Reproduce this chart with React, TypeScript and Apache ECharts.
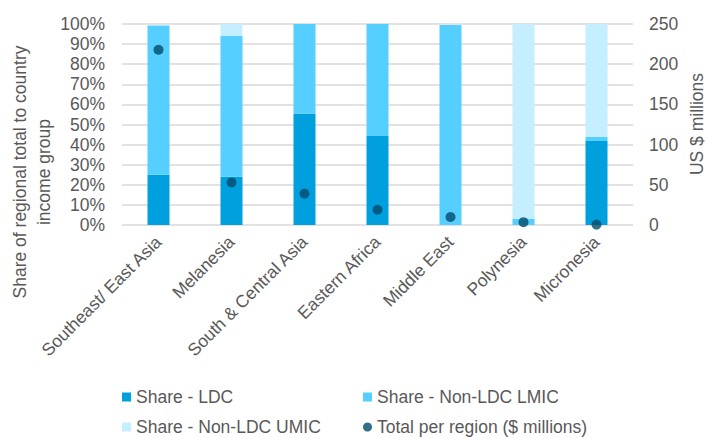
import React, { useEffect, useRef } from "react";
import * as echarts from "echarts";

const categories = [
  "Southeast/ East Asia",
  "Melanesia",
  "South & Central Asia",
  "Eastern Africa",
  "Middle East",
  "Polynesia",
  "Micronesia",
];
const shareLDC = [25, 24, 55.5, 44.3, 0, 0, 41.8];
const shareLMIC = [74.2, 70, 44.5, 55.7, 99.5, 3, 2];
const shareUMIC = [0, 6, 0, 0, 0, 97, 56.2];
const totalPerRegion = [218, 53, 39, 19, 10, 3.5, 0.5];
const leftTicks = [0, 10, 20, 30, 40, 50, 60, 70, 80, 90, 100];
const rightTicks = [0, 50, 100, 150, 200, 250];

const FONT = "Liberation Sans, Arial, sans-serif";
const GRAY = "#595959";
const FS = 17.5;

export default function App() {
  const ref = useRef<HTMLDivElement>(null);
  useEffect(() => {
    if (!ref.current) return;
    const chart = echarts.init(ref.current, null, { renderer: "svg" });
    const legendText = { color: GRAY, fontSize: FS, fontFamily: FONT };
    chart.setOption({
      animation: false,
      textStyle: { fontFamily: FONT },
      grid: { left: 122, right: 74, top: 24, bottom: 213, containLabel: false },
      legend: [
        { data: [{ name: "Share - LDC", icon: "rect" }], left: 122, top: 388, itemWidth: 9, itemHeight: 9, itemGap: 5, textStyle: legendText, padding: 0 },
        { data: [{ name: "Share - Non-LDC LMIC", icon: "rect" }], left: 363, top: 388, itemWidth: 9, itemHeight: 9, textStyle: legendText, padding: 0 },
        { data: [{ name: "Share - Non-LDC UMIC", icon: "rect" }], left: 122, top: 418, itemWidth: 9, itemHeight: 9, textStyle: legendText, padding: 0 },
        { data: [{ name: "Total per region ($ millions)", icon: "circle" }], left: 363, top: 418, itemWidth: 9, itemHeight: 9, textStyle: legendText, padding: 0 },
      ],
      xAxis: {
        type: "category",
        data: categories,
        axisLine: { show: false },
        axisTick: { show: false },
        axisLabel: { rotate: 45, color: GRAY, fontSize: FS, fontFamily: FONT, margin: 14, interval: 0 },
      },
      yAxis: [
        {
          type: "value",
          min: leftTicks[0],
          max: leftTicks[leftTicks.length - 1],
          interval: 10,
          axisLine: { show: false },
          axisTick: { show: false },
          splitLine: { lineStyle: { color: "#d9d9d9", width: 1.5 } },
          axisLabel: { formatter: "{value}%", color: GRAY, fontSize: FS, fontFamily: FONT, margin: 17 },
        },
        {
          type: "value",
          min: rightTicks[0],
          max: rightTicks[rightTicks.length - 1],
          interval: 50,
          axisLine: { show: false },
          axisTick: { show: false },
          splitLine: { show: false },
          axisLabel: { color: GRAY, fontSize: FS, fontFamily: FONT, margin: 16 },
        },
      ],
      series: [
        { name: "Share - LDC", type: "bar", stack: "s", data: shareLDC, barWidth: 22, itemStyle: { color: "#00A0DF" } },
        { name: "Share - Non-LDC LMIC", type: "bar", stack: "s", data: shareLMIC, barWidth: 22, itemStyle: { color: "#55CFFF" } },
        { name: "Share - Non-LDC UMIC", type: "bar", stack: "s", data: shareUMIC, barWidth: 22, itemStyle: { color: "#C5EEFF" } },
        { name: "Total per region ($ millions)", type: "scatter", yAxisIndex: 1, data: totalPerRegion, symbolSize: 10, itemStyle: { color: "#004B6B" }, z: 5 },
      ],
      graphic: [
        {
          type: "text",
          x: 20,
          y: 172,
          rotation: Math.PI / 2,
          style: { text: "Share of regional total to country", fill: GRAY, fontSize: FS, fontFamily: FONT, align: "center", verticalAlign: "middle" },
        },
        {
          type: "text",
          x: 44,
          y: 172,
          rotation: Math.PI / 2,
          style: { text: "income group", fill: GRAY, fontSize: FS, fontFamily: FONT, align: "center", verticalAlign: "middle" },
        },
        {
          type: "text",
          x: 697,
          y: 124,
          rotation: Math.PI / 2,
          style: { text: "US $ millions", fill: GRAY, fontSize: FS, fontFamily: FONT, align: "center", verticalAlign: "middle" },
        },
      ],
    });
    return () => chart.dispose();
  }, []);
  return <div ref={ref} style={{ width: 707, height: 438, position: "absolute", left: 0, top: 0 }} />;
}
